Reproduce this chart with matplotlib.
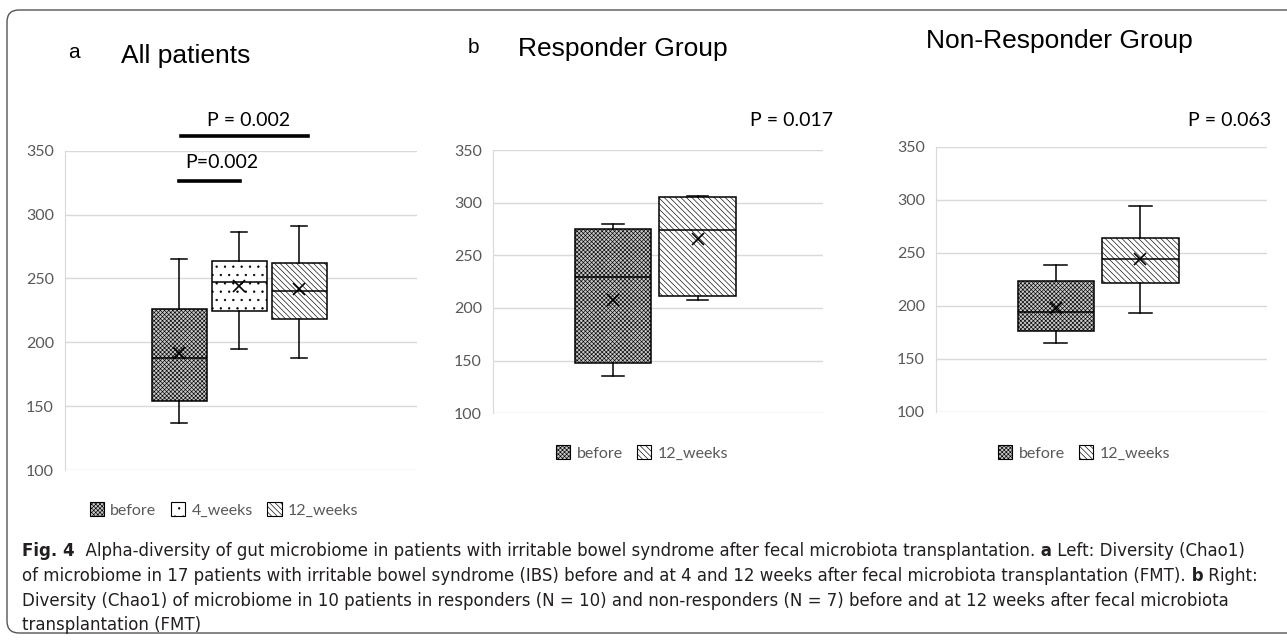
import matplotlib
matplotlib.use('Agg')
import matplotlib.pyplot as plt
from matplotlib.patches import Patch, FancyBboxPatch
from matplotlib.lines import Line2D

W, H = 1287, 640

# a: all patients
groups_a = ['before', '4_weeks', '12_weeks']
whislo_a = [137, 194.5, 188]
q1_a = [154, 224.5, 218.5]
med_a = [187.5, 247, 240]
q3_a = [226, 264, 262]
whishi_a = [265, 286.5, 291]
mean_a = [191.5, 244, 241.5]

# b: responders / non-responders
groups_b = ['before', '12_weeks']
whislo_r = [135.5, 207.5]
q1_r = [147.5, 211]
med_r = [229.5, 274]
q3_r = [275, 305]
whishi_r = [279.5, 306.5]
mean_r = [207.5, 265.5]

whislo_n = [164.5, 193.5]
q1_n = [176.5, 221]
med_n = [194, 244.5]
q3_n = [223, 264]
whishi_n = [238, 294.5]
mean_n = [198, 244]

yticks = [100, 150, 200, 250, 300, 350]

styles = {
    'before': dict(facecolor='#c8c8c8', hatch='xxxxxxxx'),
    '4_weeks': dict(facecolor='white', hatch='..'),
    '12_weeks': dict(facecolor='white', hatch='\\\\\\\\\\\\'),
}

plt.rcParams['hatch.linewidth'] = 0.45
tick_font = 'Lato'
title_font = 'Liberation Sans'
grey = '#595959'

fig = plt.figure(figsize=(W / 100, H / 100), dpi=100)


def rect(l, r, t, b):
    return [l / W, 1 - b / H, (r - l) / W, (b - t) / H]


def ftext(x, y, s, **kw):
    return fig.text(x / W, 1 - y / H, s, **kw)


def draw_panel(ax, groups, whislo, q1, med, q3, whishi, mean, xlim, width, capw):
    stats = []
    for i, g in enumerate(groups):
        stats.append(dict(label=g, whislo=whislo[i], q1=q1[i], med=med[i], q3=q3[i],
                          whishi=whishi[i], mean=mean[i], fliers=[]))
    lw = 1.1
    bp = ax.bxp(stats, positions=range(len(groups)), widths=width, capwidths=capw,
                patch_artist=True, showmeans=True,
                boxprops=dict(edgecolor='black', linewidth=lw),
                medianprops=dict(color='black', linewidth=lw),
                whiskerprops=dict(color='black', linewidth=lw),
                capprops=dict(color='black', linewidth=lw),
                meanprops=dict(marker='x', markeredgecolor='black', markersize=8,
                               markeredgewidth=1.2))
    for box, g in zip(bp['boxes'], groups):
        box.set_facecolor(styles[g]['facecolor'])
        box.set_hatch(styles[g]['hatch'])
    ax.set_ylim(100, 350)
    ax.set_yticks(yticks)
    ax.set_xlim(xlim)
    ax.set_xticks([])
    ax.grid(axis='y', color='#d9d9d9', linewidth=1)
    ax.set_axisbelow(True)
    for s in ['top', 'right', 'bottom']:
        ax.spines[s].set_visible(False)
    ax.spines['left'].set_color('#d9d9d9')
    ax.tick_params(axis='y', length=0, labelcolor=grey, labelsize=11.5, pad=8)
    for lab in ax.get_yticklabels():
        lab.set_fontfamily(tick_font)


ax_a = fig.add_axes(rect(65, 417, 150.7, 470))
draw_panel(ax_a, groups_a, whislo_a, q1_a, med_a, q3_a, whishi_a, mean_a,
           (-1.9, 3.96), 0.917, 0.27)
ax_b = fig.add_axes(rect(493, 823, 150, 413.3))
draw_panel(ax_b, groups_b, whislo_r, q1_r, med_r, q3_r, whishi_r, mean_r,
           (-1.42, 2.485), 0.9, 0.26)
ax_c = fig.add_axes(rect(936, 1266.7, 146.7, 411.7))
draw_panel(ax_c, groups_b, whislo_n, q1_n, med_n, q3_n, whishi_n, mean_n,
           (-1.414, 2.49), 0.9, 0.27)


def legend_at(groups, cx, cy):
    handles = [Patch(facecolor=styles[g]['facecolor'], hatch=styles[g]['hatch'],
                     edgecolor='black', linewidth=0.8, label=g) for g in groups]
    fig.legend(handles=handles, loc='center', bbox_to_anchor=(cx / W, 1 - cy / H),
               ncol=len(groups), frameon=False, labelcolor=grey,
               prop=dict(family=tick_font, size=11.5),
               handlelength=0.9, handleheight=0.9, handletextpad=0.4,
               columnspacing=0.9)


legend_at(groups_a, 224, 510)
legend_at(groups_b, 642, 453)
legend_at(groups_b, 1084, 453)

# panel titles
ftext(68, 58, 'a', family=title_font, fontsize=15, va='baseline')
ftext(121, 63, 'All patients', family=title_font, fontsize=19, va='baseline')
ftext(468, 53, 'b', family=title_font, fontsize=15, va='baseline')
ftext(518, 56, 'Responder Group', family=title_font, fontsize=19, va='baseline')
ftext(926, 48, 'Non-Responder Group', family=title_font, fontsize=19, va='baseline')

# p-values
pkw = dict(family=tick_font, fontsize=14, ha='center', va='center', color='black')
ftext(249, 121, 'P = 0.002', **pkw)
ftext(222, 163, 'P=0.002', **pkw)
ftext(792, 120, 'P = 0.017', **pkw)
ftext(1230, 120, 'P = 0.063', **pkw)
fig.add_artist(Line2D([181 / W, 308 / W], [1 - 136 / H] * 2, color='black', lw=2.6))
fig.add_artist(Line2D([179 / W, 240 / W], [1 - 180.7 / H] * 2, color='black', lw=2.6))

# caption
cap_font = ['DejaVu Sans']
cap_color = '#231f20'
cap_size = 12
renderer = fig.canvas.get_renderer()


def rich_line(x, y, pieces):
    for s, bold in pieces:
        t = ftext(x, y, s, family=cap_font, fontsize=cap_size, color=cap_color,
                  fontweight='bold' if bold else 'normal', va='center')
        x += t.get_window_extent(renderer).width


rich_line(22, 551, [('Fig. 4', True),
                    ('  Alpha-diversity of gut microbiome in patients with irritable bowel '
                     'syndrome after fecal microbiota transplantation.', False),
                    (' a', True), (' Left: Diversity (Chao1)', False)])
rich_line(22, 576, [('of microbiome in 17 patients with irritable bowel syndrome (IBS) before '
                     'and at 4 and 12 weeks after fecal microbiota transplantation (FMT).', False),
                    (' b', True), (' Right:', False)])
rich_line(22, 601, [('Diversity (Chao1) of microbiome in 10 patients in responders (N = 10) and '
                     'non-responders (N = 7) before and at 12 weeks after fecal microbiota', False)])
rich_line(22, 625, [('transplantation (FMT)', False)])

# frame
frame = FancyBboxPatch((0.07, 0.07), 13.5, 6.23, boxstyle='round,pad=0,rounding_size=0.12',
                       transform=fig.dpi_scale_trans, facecolor='none',
                       edgecolor='#555555', linewidth=1)
fig.add_artist(frame)

fig.savefig('out.png', dpi=100)
